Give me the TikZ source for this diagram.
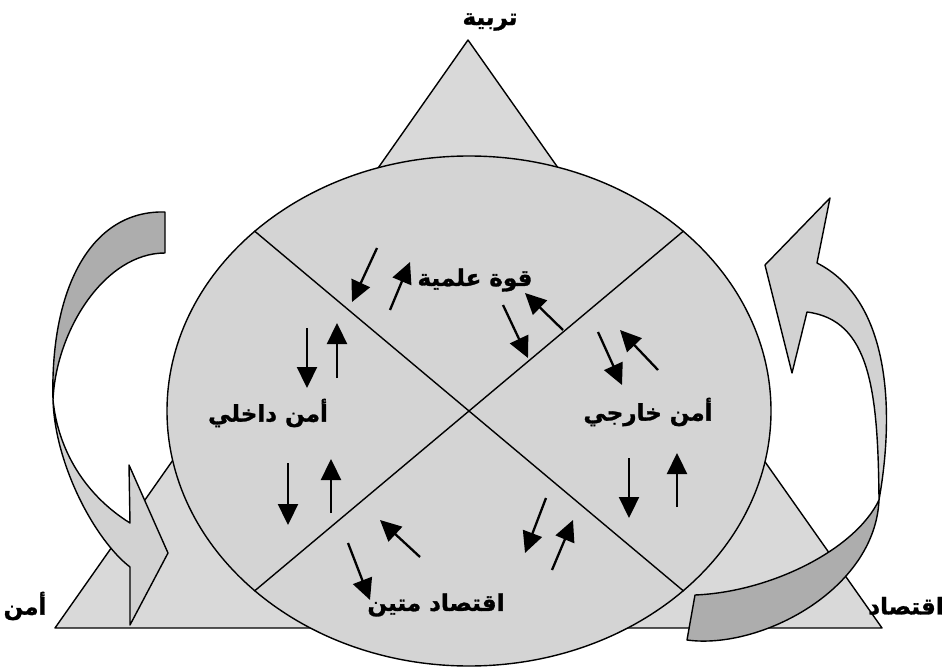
\documentclass[tikz,border=0pt]{standalone}
\usepackage{fontspec}
\newfontfamily\arabicfont[Script=Arabic,BoldFeatures={FakeBold=1.2}]{DejaVu Sans}
\TeXXeTstate=1
\usetikzlibrary{arrows.meta,shapes.geometric}
\definecolor{trifill}{HTML}{D9D9D9}
\definecolor{ellfill}{HTML}{D4D4D4}
\definecolor{darkband}{HTML}{ADADAD}
\definecolor{lightband}{HTML}{D2D2D2}
\begin{document}
\begin{tikzpicture}[x=1pt,y=-1pt,
  outline/.style={draw=black,line width=1.4pt,line join=round},
  sarrow/.style={line width=2.3pt,-{Triangle[length=21pt,width=20pt]}},
  lbl/.style={font=\arabicfont\bfseries\fontsize{23}{26}\selectfont,inner sep=0pt}]
\useasboundingbox (0,0) rectangle (945,671);
\fill[white] (0,0) rectangle (945,671);
% triangle
\coordinate (TA) at (468,40);
\coordinate (TL) at (55,628);
\coordinate (TR) at (882,628);
\draw[outline,fill=trifill] (TA) -- (TL) -- (TR) -- cycle;
% ellipse
\node[ellipse,draw,line width=1.4pt,fill=ellfill,minimum width=604pt,minimum height=510pt,inner sep=0pt] (E) at (469,411) {};
\draw[outline] (E.140) -- (E.320);
\draw[outline] (E.40) -- (E.220);
% left curved arrow
\coordinate (L1) at (165,212);
\coordinate (L2) at (165,253);
\coordinate (LT) at (53,400);
\coordinate (L3) at (130,523);
\coordinate (L4) at (130,567);
\coordinate (LH1) at (129,465);
\coordinate (LH2) at (168,553);
\coordinate (LH3) at (130,625);
\draw[outline,fill=darkband] (L1) .. controls (90,210) and (50,290) .. (LT)
   .. controls (56,330) and (105,253) .. (L2) -- cycle;
\draw[outline,fill=lightband] (L3) -- (LH1) -- (LH2) -- (LH3) -- (L4)
   .. controls (95,540) and (55,465) .. (LT)
   .. controls (58,450) and (85,495) .. (L3) -- cycle;
% right curved arrow
\coordinate (R1) at (695,595);
\coordinate (R2) at (687,640);
\coordinate (RT) at (879,500);
\coordinate (R3) at (817,263);
\coordinate (R4) at (807,312);
\coordinate (RH1) at (830,198);
\coordinate (RH2) at (765,265);
\coordinate (RH3) at (792,373);
\draw[outline,fill=lightband] (RT) .. controls (895,410) and (890,300) .. (R3)
   -- (RH1) -- (RH2) -- (RH3) -- (R4)
   .. controls (870,320) and (878,390) .. (RT) -- cycle;
\draw[outline,fill=darkband] (R1) .. controls (770,592) and (855,550) .. (RT)
   .. controls (875,590) and (760,650) .. (R2) -- cycle;
% small arrows: top sector
\coordinate (a1s) at (377,248); \coordinate (a1e) at (352,302);
\coordinate (a2s) at (390,310); \coordinate (a2e) at (410,262);
\coordinate (a3s) at (503,305); \coordinate (a3e) at (528,358);
\coordinate (a4s) at (563,330); \coordinate (a4e) at (525,293);
\draw[sarrow] (a1s) -- (a1e);
\draw[sarrow] (a2s) -- (a2e);
\draw[sarrow] (a3s) -- (a3e);
\draw[sarrow] (a4s) -- (a4e);
% left sector
\coordinate (l1s) at (307,328); \coordinate (l1e) at (307,388);
\coordinate (l2s) at (337,378); \coordinate (l2e) at (337,323);
\coordinate (l3s) at (288,463); \coordinate (l3e) at (288,525);
\coordinate (l4s) at (331,513); \coordinate (l4e) at (331,459);
\draw[sarrow] (l1s) -- (l1e);
\draw[sarrow] (l2s) -- (l2e);
\draw[sarrow] (l3s) -- (l3e);
\draw[sarrow] (l4s) -- (l4e);
% right sector
\coordinate (r1s) at (598,332); \coordinate (r1e) at (622,385);
\coordinate (r2s) at (658,370); \coordinate (r2e) at (620,330);
\coordinate (r3s) at (629,458); \coordinate (r3e) at (629,518);
\coordinate (r4s) at (677,507); \coordinate (r4e) at (677,453);
\draw[sarrow] (r1s) -- (r1e);
\draw[sarrow] (r2s) -- (r2e);
\draw[sarrow] (r3s) -- (r3e);
\draw[sarrow] (r4s) -- (r4e);
% bottom sector
\coordinate (b1s) at (420,557); \coordinate (b1e) at (380,520);
\coordinate (b2s) at (348,543); \coordinate (b2e) at (370,600);
\coordinate (b3s) at (546,498); \coordinate (b3e) at (525,553);
\coordinate (b4s) at (552,570); \coordinate (b4e) at (573,520);
\draw[sarrow] (b1s) -- (b1e);
\draw[sarrow] (b2s) -- (b2e);
\draw[sarrow] (b3s) -- (b3e);
\draw[sarrow] (b4s) -- (b4e);
% labels
\node[lbl] (tarbiya) at (490,22) {\beginR تربية\endR};
\node[lbl] (quwwa) at (475,280) {\beginR قوة علمية\endR};
\node[lbl] (dakhili) at (268,413) {\beginR أمن داخلي\endR};
\node[lbl] (khariji) at (648,412) {\beginR أمن خارجي\endR};
\node[lbl] (iqtisad) at (436,605) {\beginR اقتصاد متين\endR};
\node[lbl] (amn) at (25,606) {\beginR أمن\endR};
\node[lbl] (iqt) at (906,606) {\beginR اقتصاد\endR};
\end{tikzpicture}
\end{document}
